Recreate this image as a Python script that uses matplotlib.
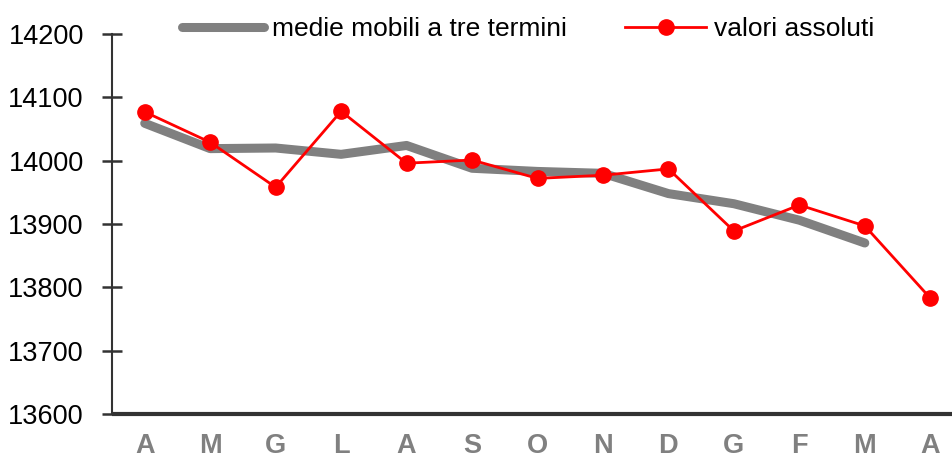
import matplotlib
matplotlib.use("Agg")
import matplotlib.pyplot as plt
import numpy as np

months = ["A", "M", "G", "L", "A", "S", "O", "N", "D", "G", "F", "M", "A"]
valori_assoluti = [14077, 14029, 13958, 14078, 13996, 14001, 13972, 13977, 13987, 13889, 13930, 13897, 13783]
medie_mobili = [14059, 14019, 14020, 14010, 14024, 13988, 13983, 13980, 13948, 13932, 13906, 13870]

plt.rcParams['font.family'] = ['Liberation Sans', 'DejaVu Sans']

W, H = 953, 463
fig = plt.figure(figsize=(W / 100, H / 100), dpi=100)
left, right, top, bottom = 112, 963, 34, 414
ax = fig.add_axes([left / W, 1 - bottom / H, (right - left) / W, (bottom - top) / H])

x = np.arange(len(months))
ax.plot(x[:len(medie_mobili)], medie_mobili, color="#808080", lw=6.5,
        solid_capstyle="round", label="medie mobili a tre termini", zorder=2)
ax.plot(x, valori_assoluti, color="#ff0000", lw=2, marker="o", markersize=11,
        label="valori assoluti", zorder=3)

ax.set_xlim(-0.5, len(months) - 0.5)
ax.set_ylim(13600, 14200)
ax.set_yticks(np.arange(13600, 14201, 100))
ax.set_xticks(x)
ax.set_xticklabels(months, color="#808080", fontweight="bold", fontsize=19.5,
                   family=["Liberation Sans Narrow", "Liberation Sans", "DejaVu Sans"])
ax.tick_params(axis="x", length=0, pad=14)
ax.tick_params(axis="y", direction="inout", length=14.5, width=1.8, color="#333333",
               labelsize=19.5, pad=13)

for s in ["top", "right"]:
    ax.spines[s].set_visible(False)
ax.spines["left"].set_color("#333333")
ax.spines["left"].set_linewidth(1.5)
ax.spines["bottom"].set_color("#333333")
ax.spines["bottom"].set_linewidth(3)
ax.spines["bottom"].set_capstyle("butt")

leg = fig.legend(loc="center left", bbox_to_anchor=(182 / W, 1 - 29 / H), ncol=2,
                 frameon=False, fontsize=19, handlelength=3.1, handletextpad=0.3,
                 columnspacing=2.2, borderpad=0, borderaxespad=0)

fig.savefig("out.png", dpi=100)
